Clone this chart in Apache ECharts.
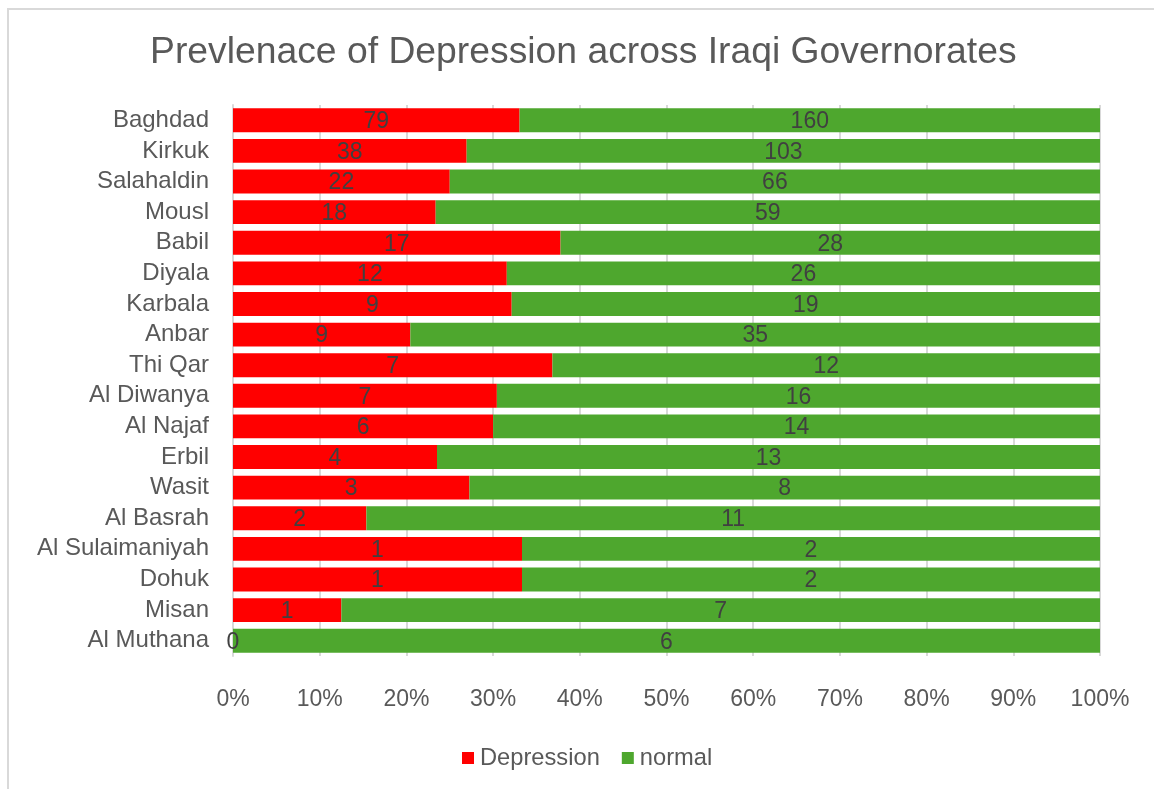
<!DOCTYPE html>
<html>
<head>
<meta charset="utf-8">
<script src="https://cdn.jsdelivr.net/npm/echarts@6/dist/echarts.min.js"></script>
<style>
html,body{margin:0;padding:0;background:#fff;}
#chart{width:1154px;height:789px;}
</style>
</head>
<body>
<div id="chart"></div>
<script>
const categories = ["Baghdad","Kirkuk","Salahaldin","Mousl","Babil","Diyala","Karbala","Anbar","Thi Qar","Al Diwanya","Al Najaf","Erbil","Wasit","Al Basrah","Al Sulaimaniyah","Dohuk","Misan","Al Muthana"];
const depression = [79,38,22,18,17,12,9,9,7,7,6,4,3,2,1,1,1,0];
const normal = [160,103,66,59,28,26,19,35,12,16,14,13,8,11,2,2,7,6];
const xTicks = [0,10,20,30,40,50,60,70,80,90,100];

const pct = (arr) => arr.map((v, i) => {
  const t = depression[i] + normal[i];
  return { value: t ? v / t * 100 : 0, raw: v };
});

const FONT = '"Liberation Sans", Arial, sans-serif';
const chart = echarts.init(document.getElementById('chart'));
chart.setOption({
  animation: false,
  textStyle: { fontFamily: FONT },
  graphic: [{
    type: 'rect', silent: true,
    shape: { x: 8, y: 9, width: 1300, height: 1000 },
    style: { fill: 'none', stroke: '#d9d9d9', lineWidth: 2 }
  }],
  title: {
    text: 'Prevlenace of Depression across Iraqi Governorates',
    left: 150, top: 34, padding: 0,
    textStyle: { fontFamily: FONT, fontSize: 37.3, fontWeight: 'normal', color: '#595959' }
  },
  legend: {
    bottom: 19, left: 462, padding: 0,
    itemWidth: 12, itemHeight: 12, itemGap: 22,
    icon: 'rect',
    textStyle: { fontFamily: FONT, fontSize: 23.7, color: '#595959', padding: [0,0,0,1] },
    data: ['Depression', 'normal']
  },
  grid: { left: 233, right: 54, top: 105, bottom: 133, containLabel: false },
  xAxis: {
    type: 'value', min: 0, max: 100, interval: 10,
    axisLine: { show: false }, axisTick: { show: false },
    splitLine: { lineStyle: { color: '#d9d9d9', width: 2 } },
    axisLabel: { formatter: v => xTicks.includes(v) ? v + '%' : '', fontFamily: FONT, fontSize: 23, color: '#595959', margin: 32 }
  },
  yAxis: {
    type: 'category', data: categories, inverse: true,
    axisLine: { show: true, lineStyle: { color: '#d9d9d9', width: 2 } },
    axisTick: { show: false },
    axisLabel: { interval: 0, fontFamily: FONT, fontSize: 24, color: '#595959', margin: 24, padding: [4, 0, 0, 0] }
  },
  series: [
    {
      name: 'Depression', type: 'bar', stack: 'total', barCategoryGap: '22%',
      itemStyle: { color: '#ff0000' },
      label: { show: true, position: 'inside', offset: [0, 1.5], formatter: p => p.data.raw, fontFamily: FONT, fontSize: 23, color: '#404040' },
      data: pct(depression)
    },
    {
      name: 'normal', type: 'bar', stack: 'total', barCategoryGap: '22%',
      itemStyle: { color: '#4ea72e' },
      label: { show: true, position: 'inside', offset: [0, 1.5], formatter: p => p.data.raw, fontFamily: FONT, fontSize: 23, color: '#404040' },
      data: pct(normal)
    }
  ]
});
</script>
</body>
</html>
